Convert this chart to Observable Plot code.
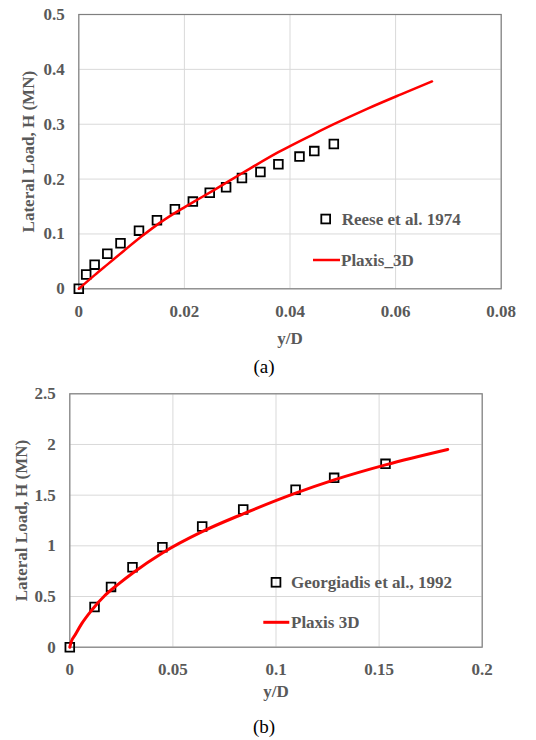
<!DOCTYPE html>
<html>
<head>
<meta charset="utf-8">
<script src="https://cdn.jsdelivr.net/npm/d3@7"></script>
<script src="https://cdn.jsdelivr.net/npm/@observablehq/plot@0.6"></script>
<style>
  html, body { margin: 0; padding: 0; background: #fff; }
  #page { position: relative; width: 536px; height: 740px; overflow: hidden; background: #fff; }
  .chart { position: absolute; left: 0; }
  .cap { position: absolute; font-family: "Liberation Serif", serif; font-size: 19px; color: #000; transform: translate(-50%, -50%); white-space: nowrap; }
  #legend { position: absolute; left: 0; top: 0; pointer-events: none; }
</style>
</head>
<body>
<div id="page">
  <div id="chartA" class="chart" style="top:0px"></div>
  <div id="chartB" class="chart" style="top:375px"></div>
  <div class="cap" style="left:264px; top:367px">(a)</div>
  <div class="cap" style="left:264px; top:727px">(b)</div>
  <svg id="legend" width="536" height="740"></svg>
</div>
<script>
// ---- Chart (a) data ----
const reeseX = [0, 0.0014, 0.0030, 0.0054, 0.0079, 0.0114, 0.0148, 0.0182, 0.0216, 0.0248, 0.0279, 0.0309, 0.0344, 0.0378, 0.0418, 0.0446, 0.0483];
const reeseY = [0, 0.026, 0.044, 0.064, 0.083, 0.106, 0.125, 0.145, 0.159, 0.175, 0.185, 0.202, 0.213, 0.227, 0.241, 0.251, 0.264];
const plaxisAX = [0, 0.003, 0.0055, 0.0085, 0.0121, 0.0156, 0.019, 0.0224, 0.0256, 0.031, 0.0378, 0.0446, 0.0483, 0.0546, 0.0609, 0.0669];
const plaxisAY = [0, 0.025, 0.045, 0.069, 0.097, 0.122, 0.143, 0.162, 0.180, 0.211, 0.249, 0.2825, 0.300, 0.328, 0.354, 0.378];
const xTicksA = [0, 0.02, 0.04, 0.06, 0.08];
const yTicksA = [0, 0.1, 0.2, 0.3, 0.4, 0.5];

// ---- Chart (b) data ----
const georgX = [0, 0.0120, 0.0200, 0.0304, 0.0449, 0.0642, 0.0841, 0.1095, 0.1282, 0.1531];
const georgY = [0, 0.397, 0.595, 0.789, 0.987, 1.191, 1.359, 1.553, 1.671, 1.809];
const plaxisBX = [0, 0.0008, 0.0024, 0.0057, 0.0105, 0.017, 0.0234, 0.0307, 0.0449, 0.0642, 0.0841, 0.1095, 0.1282, 0.1531, 0.1833];
const plaxisBY = [0, 0.06, 0.115, 0.23, 0.362, 0.51, 0.62, 0.735, 0.93, 1.14, 1.316, 1.52, 1.651, 1.799, 1.951];
const xTicksB = [0, 0.05, 0.1, 0.15, 0.2];
const yTicksB = [0, 0.5, 1, 1.5, 2, 2.5];

const labels = {
  yTitle: "Lateral Load, H (MN)",
  xTitle: "y/D",
  reese: "Reese et al. 1974",
  plaxisA: "Plaxis_3D",
  georg: "Georgiadis et al., 1992",
  plaxisB: "Plaxis 3D"
};

const FONT = "Liberation Serif, serif";
const GRAY = "#595959";
const fmt = d => String(+d.toFixed(3));

function zip(xs, ys) { return xs.map((x, i) => ({x, y: ys[i]})); }

function makeChart({xs, ys, lx, ly, xDomain, yDomain, xTicks, yTicks, width, height, mt, mb, ml, mr, lineW, yLabelOffset, xLabelOffset}) {
  return Plot.plot({
    width, height,
    marginTop: mt, marginBottom: mb, marginLeft: ml, marginRight: mr,
    style: {fontFamily: FONT, fontSize: "17px", fontWeight: "bold", color: GRAY, background: "transparent", overflow: "visible"},
    x: {domain: xDomain, ticks: xTicks, tickFormat: fmt},
    y: {domain: yDomain, ticks: yTicks, tickFormat: fmt},
    marks: [
      Plot.gridX(xTicks, {stroke: "#d9d9d9", strokeOpacity: 1, strokeWidth: 1}),
      Plot.gridY(yTicks, {stroke: "#d9d9d9", strokeOpacity: 1, strokeWidth: 1}),
      Plot.frame({stroke: "#7f7f7f", strokeWidth: 1.2}),
      Plot.axisX(xTicks, {tickSize: 0, tickPadding: 16, tickFormat: fmt, label: labels.xTitle, labelAnchor: "center", labelArrow: "none", labelOffset: xLabelOffset, fill: GRAY, fontWeight: "bold"}),
      Plot.axisY(yTicks, {tickSize: 0, tickPadding: 14, tickFormat: fmt, label: labels.yTitle, labelAnchor: "center", labelOffset: yLabelOffset, labelArrow: "none", fill: GRAY, fontWeight: "bold"}),
      Plot.dot(zip(xs, ys), {x: "x", y: "y", symbol: "square", r: 4.9, stroke: "#000", strokeWidth: 1.8, fill: "none"}),
      Plot.line(zip(lx, ly), {x: "x", y: "y", stroke: "#ff0000", strokeWidth: lineW, curve: "monotone-x"})
    ]
  });
}

document.getElementById("chartA").append(makeChart({
  xs: reeseX, ys: reeseY, lx: plaxisAX, ly: plaxisAY,
  xDomain: [0, 0.08], yDomain: [0, 0.5], xTicks: xTicksA, yTicks: yTicksA,
  width: 536, height: 345, mt: 14, mb: 56.7, ml: 78.3, mr: 35.3, lineW: 2.5,
  yLabelOffset: 57, xLabelOffset: 55
}));

document.getElementById("chartB").append(makeChart({
  xs: georgX, ys: georgY, lx: plaxisBX, ly: plaxisBY,
  xDomain: [0, 0.2], yDomain: [0, 2.5], xTicks: xTicksB, yTicks: yTicksB,
  width: 536, height: 325, mt: 18.3, mb: 53.3, ml: 69.3, mr: 54.3, lineW: 3,
  yLabelOffset: 55, xLabelOffset: 50
}));

// ---- Legends (overlay) ----
const lg = d3.select("#legend");
function legend(sq, ln, t1, t2) {
  lg.append("rect").attr("x", sq[0] - 4.4).attr("y", sq[1] - 4.4).attr("width", 8.8).attr("height", 8.8)
    .attr("fill", "none").attr("stroke", "#000").attr("stroke-width", 1.8);
  lg.append("text").attr("x", sq[2]).attr("y", sq[1]).attr("dy", "0.34em").text(t1)
    .attr("font-family", FONT).attr("font-size", 17).attr("font-weight", "bold").attr("fill", GRAY);
  lg.append("line").attr("x1", ln[0]).attr("x2", ln[1]).attr("y1", ln[2]).attr("y2", ln[2])
    .attr("stroke", "#ff0000").attr("stroke-width", ln[3]);
  lg.append("text").attr("x", ln[4]).attr("y", ln[2]).attr("dy", "0.34em").text(t2)
    .attr("font-family", FONT).attr("font-size", 17).attr("font-weight", "bold").attr("fill", GRAY);
}
legend([325.7, 219, 341.7], [313, 340, 260, 2.5, 341], labels.reese, labels.plaxisA);
legend([276, 582.3, 291], [263.3, 289.3, 622.3, 3, 291], labels.georg, labels.plaxisB);
</script>
</body>
</html>
